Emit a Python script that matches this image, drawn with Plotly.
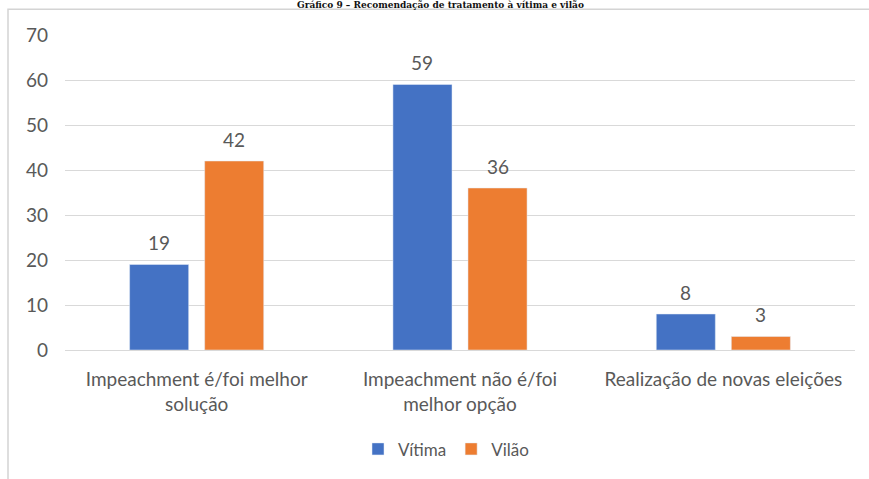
import plotly.graph_objects as go

categories = ["Impeachment é/foi melhor<br>solução",
              "Impeachment não é/foi<br>melhor opção",
              "Realização de novas eleições"]
vitima = [19, 59, 8]
vilao = [42, 36, 3]
series_names = ["Vítima", "Vilão"]
tick_values = [0, 10, 20, 30, 40, 50, 60, 70]
title_text = "Gráfico 9 – Recomendação de tratamento à vítima e vilão"

BLUE = "#4472C4"
ORANGE = "#ED7D31"
GRAY = "#595959"
FONT = "Lato, sans-serif"

W, H = 869, 479
L, R, T, B = 65, 14, 35, 127
BARGAP, GROUPGAP = 0.43, 0.213
plot_w, plot_h = W - L - R, H - T - B

fig = go.Figure()
series = [(series_names[0], vitima, BLUE), (series_names[1], vilao, ORANGE)]
for name, vals, col in series:
    fig.add_trace(go.Bar(x=categories, y=vals, name=name, marker_color=col))

# data labels above bars, positioned in data coordinates
slot = (1 - BARGAP) / len(series)
annotations = []
for k, (name, vals, col) in enumerate(series):
    off = -((1 - BARGAP) / 2) + slot * (k + 0.5)
    for i, v in enumerate(vals):
        annotations.append(dict(x=i + off, y=v, xref="x", yref="y", text=str(v),
                                showarrow=False, yanchor="middle", yshift=22,
                                font=dict(size=19, color=GRAY, family=FONT)))

annotations.append(dict(text="<b>" + title_text + "</b>", xref="paper", yref="paper",
                        x=(440 - L) / plot_w, y=(H - B + 1) / plot_h, xanchor="center", yanchor="top",
                        showarrow=False, borderpad=0,
                        font=dict(family="DejaVu Serif, Liberation Serif, serif", size=9, color="#111111")))

fig.update_layout(
    width=W, height=H,
    margin=dict(l=L, r=R, t=T, b=B),
    paper_bgcolor="white", plot_bgcolor="white",
    bargap=BARGAP, bargroupgap=GROUPGAP,
    font=dict(family=FONT, color=GRAY, size=19),
    showlegend=True,
    legend=dict(orientation="h", x=(446 - L) / plot_w, xanchor="center", y=-(452 - (H - B)) / plot_h,
                yanchor="middle", font=dict(size=17, color=GRAY, family=FONT),
                itemwidth=30, traceorder="normal"),
    xaxis=dict(showline=False, ticks="", tickfont=dict(size=19, color=GRAY), ticklabelstandoff=16),
    yaxis=dict(range=[0, 70], tickvals=tick_values, showgrid=True, gridcolor="#D9D9D9",
               gridwidth=1, zeroline=True, zerolinecolor="#D9D9D9", zerolinewidth=1,
               ticks="", tickfont=dict(size=19, color=GRAY), ticklabelstandoff=16),
    shapes=[dict(type="rect", xref="paper", yref="paper",
                 x0=(8 - L) / plot_w, x1=1.2, y0=-0.5, y1=(H - B - 9) / plot_h,
                 line=dict(color="#D4D4D4", width=1.5), fillcolor="rgba(0,0,0,0)", layer="below")],
    annotations=annotations,
)

fig.write_html("out.html", config={"displayModeBar": False},
               post_script="document.body.style.margin='0';")
